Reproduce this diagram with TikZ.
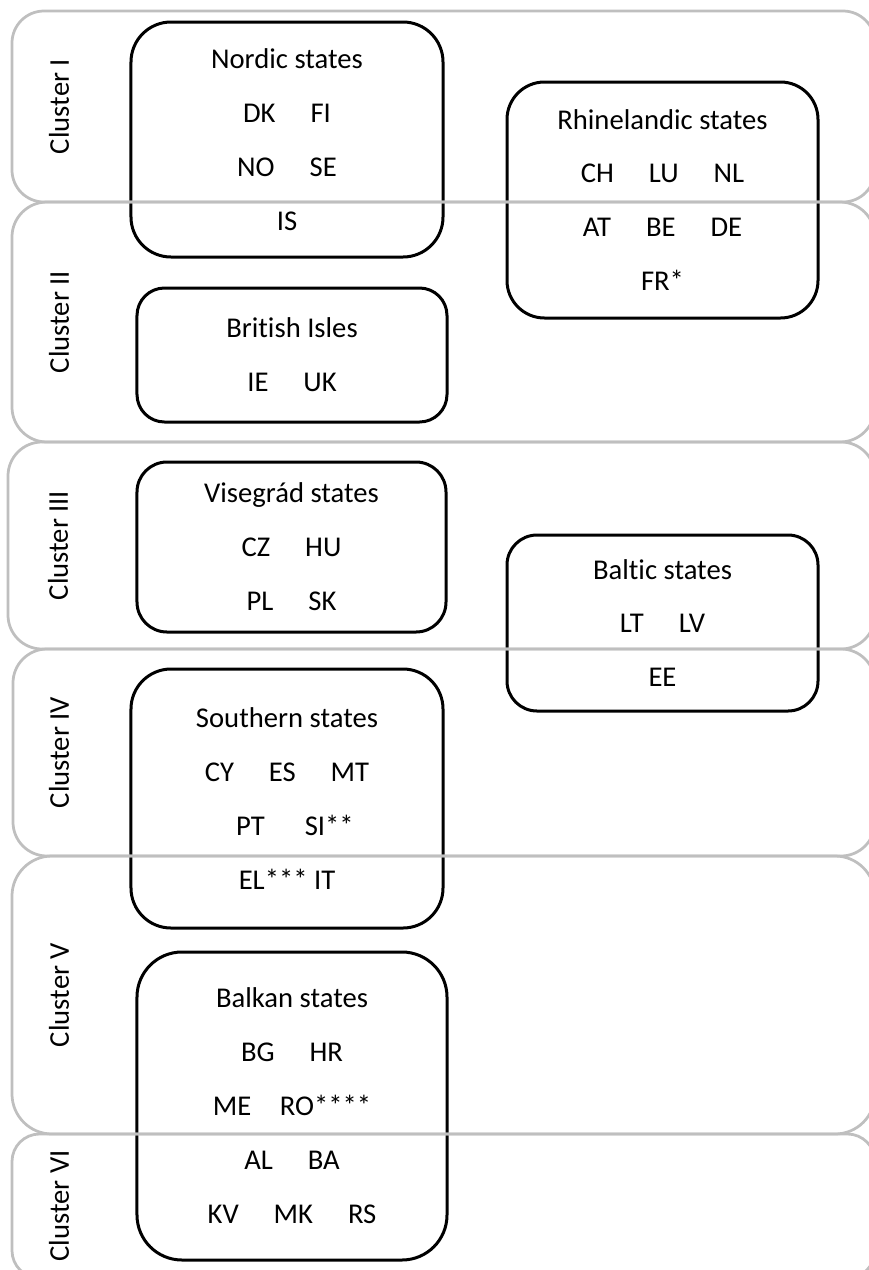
\documentclass[tikz,border=0pt]{standalone}
\usepackage{fontspec}
\setmainfont{Carlito}[Ligatures=NoCommon]
\definecolor{clustergray}{RGB}{191,191,191}
\tikzset{
    box/.style={draw, line width=0.6mm, align=center, inner sep=0pt},
    band/.style={draw=clustergray, line width=0.55mm, inner sep=0pt},
    clusterlabel/.style={rotate=90, inner sep=0pt},
}
\newcommand{\cgap}{\hspace{1.22em}}

\begin{document}
\begin{tikzpicture}[x=0.2mm, y=-0.2mm,
        font=\fontsize{16.3}{30.7}\selectfont,
    ]
    \useasboundingbox (0,0) rectangle (869,1270);
    \clip (0,0) rectangle (869,1270);

    % state groups
    \node[box, rounded corners=8mm, minimum width=62.4mm, minimum height=47mm]
        (nordic) at (287,139.5)
        {Nordic states\\DK\cgap FI\\NO\cgap SE\\IS};
    \node[box, rounded corners=7.5mm, minimum width=62.2mm, minimum height=47.2mm]
        (rhinelandic) at (662.5,200)
        {Rhinelandic states\\CH\cgap LU\cgap NL\\AT\cgap BE\cgap DE\\FR*};
    \node[box, rounded corners=5.5mm, minimum width=62mm, minimum height=26.8mm]
        (british) at (292,355)
        {British Isles\\IE\cgap UK};
    \node[box, rounded corners=6mm, minimum width=61.8mm, minimum height=34mm]
        (visegrad) at (291.5,547)
        {Visegrád states\\CZ\cgap HU\\PL\cgap SK};
    \node[box, rounded corners=6mm, minimum width=62.2mm, minimum height=35.2mm]
        (baltic) at (662.5,623)
        {Baltic states\\LT\cgap LV\\EE};
    \node[box, rounded corners=8mm, minimum width=62.4mm, minimum height=51.8mm]
        (southern) at (287,798.5)
        {Southern states\\CY\cgap ES\cgap MT\\\hspace*{0.55em}PT\hspace{1.4em}SI**\\EL*** IT};
    \node[box, rounded corners=9mm, minimum width=62mm, minimum height=61.6mm]
        (balkan) at (292,1106)
        {Balkan states\\BG\cgap HR\\ME\hspace{1em}RO****\\AL\cgap BA\\KV\cgap MK\cgap RS};

    % cluster bands
    \node[band, rounded corners=6.4mm, minimum width=172.6mm, minimum height=38.2mm]
        (bandI) at (443.5,106.5) {};
    \node[band, rounded corners=7mm, minimum width=172.6mm, minimum height=48mm]
        (bandII) at (443.5,322) {};
    \node[band, rounded corners=6.8mm, minimum width=173.4mm, minimum height=41.4mm]
        (bandIII) at (441.5,545.5) {};
    \node[band, rounded corners=6.8mm, minimum width=172.4mm, minimum height=41.4mm]
        (bandIV) at (444,752.5) {};
    \node[band, rounded corners=8mm, minimum width=172.6mm, minimum height=55.6mm]
        (bandV) at (443.5,995) {};
    \node[band, rounded corners=5.5mm, minimum width=172.6mm, minimum height=28.8mm]
        (bandVI) at (443.5,1206) {};

    \node[clusterlabel] (labelI) at (59,106.5) {Cluster I};
    \node[clusterlabel] (labelII) at (59,322) {Cluster II};
    \node[clusterlabel] (labelIII) at (58,545.5) {Cluster III};
    \node[clusterlabel] (labelIV) at (59,752.5) {Cluster IV};
    \node[clusterlabel] (labelV) at (59,995) {Cluster V};
    \node[clusterlabel] (labelVI) at (59,1206) {Cluster VI};

\end{tikzpicture}
\end{document}
